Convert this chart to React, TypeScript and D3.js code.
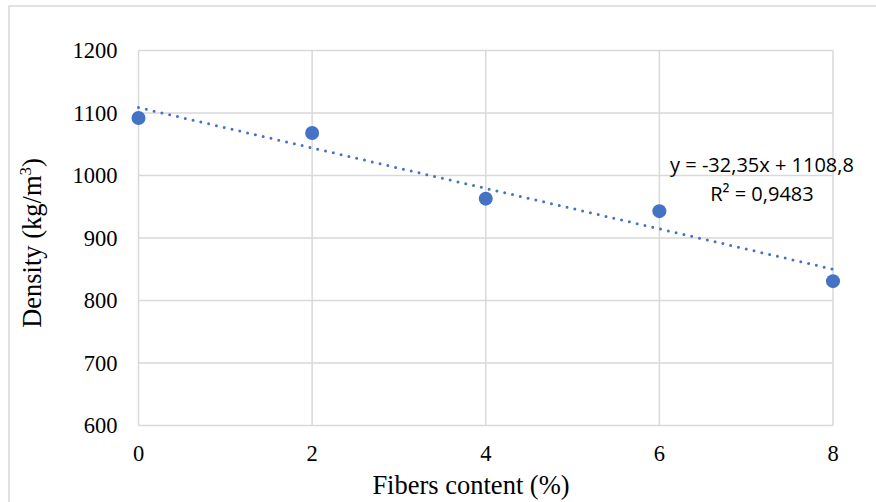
import { useRef, useEffect } from 'react'
import * as d3 from 'd3'

const fiberContent = [0, 2, 4, 6, 8]
const density = [1092, 1068, 963, 943, 831]
const yTicks = [600, 700, 800, 900, 1000, 1100, 1200]
const xTicks = [0, 2, 4, 6, 8]
const equationLines = ['y = -32,35x + 1108,8', 'R² = 0,9483']

const W = 876
const H = 502
const BLUE = '#4472C4'
const SERIF = "'Liberation Serif','Times New Roman',serif"

export default function App() {
  const svgRef = useRef<SVGSVGElement>(null)

  useEffect(() => {
    const svg = svgRef.current
    if (!svg) return
    const sel = d3.select(svg)
    sel.selectAll('*').remove()

    const margin = { top: 50.5, right: 43, bottom: 76.5, left: 138.5 }
    const iW = W - margin.left - margin.right
    const iH = H - margin.top - margin.bottom

    // Chart area border
    sel.append('rect')
      .attr('x', 9)
      .attr('y', 6)
      .attr('width', W + 20)
      .attr('height', H + 20)
      .attr('fill', '#fff')
      .attr('stroke', '#d9d9d9')
      .attr('stroke-width', 1.5)

    const g = sel.append('g').attr('transform', `translate(${margin.left},${margin.top})`)

    const x = d3.scaleLinear().domain([0, 8]).range([0, iW])
    const y = d3.scaleLinear().domain([600, 1200]).range([iH, 0])

    // Grid + tick labels
    yTicks.forEach((t) => {
      g.append('line')
        .attr('x1', 0).attr('x2', iW)
        .attr('y1', y(t)).attr('y2', y(t))
        .attr('stroke', '#d9d9d9').attr('stroke-width', 1.5)
      g.append('text')
        .attr('x', -21)
        .attr('y', y(t))
        .attr('text-anchor', 'end')
        .attr('dominant-baseline', 'central')
        .attr('font-family', SERIF)
        .attr('font-size', '22.5px')
        .attr('fill', '#000')
        .text(t)
    })
    xTicks.forEach((t) => {
      g.append('line')
        .attr('x1', x(t)).attr('x2', x(t))
        .attr('y1', 0).attr('y2', iH)
        .attr('stroke', '#d9d9d9').attr('stroke-width', 1.5)
      g.append('text')
        .attr('x', x(t))
        .attr('y', iH + 27.5)
        .attr('text-anchor', 'middle')
        .attr('dominant-baseline', 'central')
        .attr('font-family', SERIF)
        .attr('font-size', '22.5px')
        .attr('fill', '#000')
        .text(t)
    })

    // Linear trendline (least squares)
    const mx = d3.mean(fiberContent) as number
    const my = d3.mean(density) as number
    const slope =
      d3.sum(fiberContent, (v, i) => (v - mx) * (density[i] - my)) /
      d3.sum(fiberContent, (v) => (v - mx) ** 2)
    const icpt = my - slope * mx
    const line = d3.line<number>().x((v) => x(v)).y((v) => y(icpt + slope * v))
    g.append('path')
      .attr('d', line([0, 8]))
      .attr('fill', 'none')
      .attr('stroke', BLUE)
      .attr('stroke-width', 3)
      .attr('stroke-linecap', 'round')
      .attr('stroke-dasharray', '0 8')

    // Points
    fiberContent.forEach((v, i) => {
      g.append('circle')
        .attr('cx', x(v))
        .attr('cy', y(density[i]))
        .attr('r', 7)
        .attr('fill', BLUE)
    })

    // Equation label
    equationLines.forEach((s, i) => {
      sel.append('text')
        .attr('x', 762)
        .attr('y', 171.5 + i * 29)
        .attr('text-anchor', 'middle')
        .attr('font-family', "'Open Sans','Liberation Sans',sans-serif")
        .attr('font-size', '20px')
        .attr('fill', '#000')
        .text(s)
    })

    // Axis titles
    sel.append('text')
      .attr('x', 471)
      .attr('y', 494)
      .attr('text-anchor', 'middle')
      .attr('font-family', SERIF)
      .attr('font-size', '26.5px')
      .attr('fill', '#000')
      .text('Fibers content (%)')

    const yt = sel.append('text')
      .attr('transform', `translate(41,243) rotate(-90)`)
      .attr('text-anchor', 'middle')
      .attr('font-family', SERIF)
      .attr('font-size', '26.5px')
      .attr('fill', '#000')
    yt.append('tspan').text('Density (kg/m')
    yt.append('tspan').attr('font-size', '17px').attr('dy', -10).text('3')
    yt.append('tspan').attr('dy', 10).text(')')
  }, [])

  return (
    <div style={{ position: 'absolute', left: 0, top: 0 }}>
      <svg ref={svgRef} width={W} height={H} style={{ display: 'block' }} />
    </div>
  )
}
